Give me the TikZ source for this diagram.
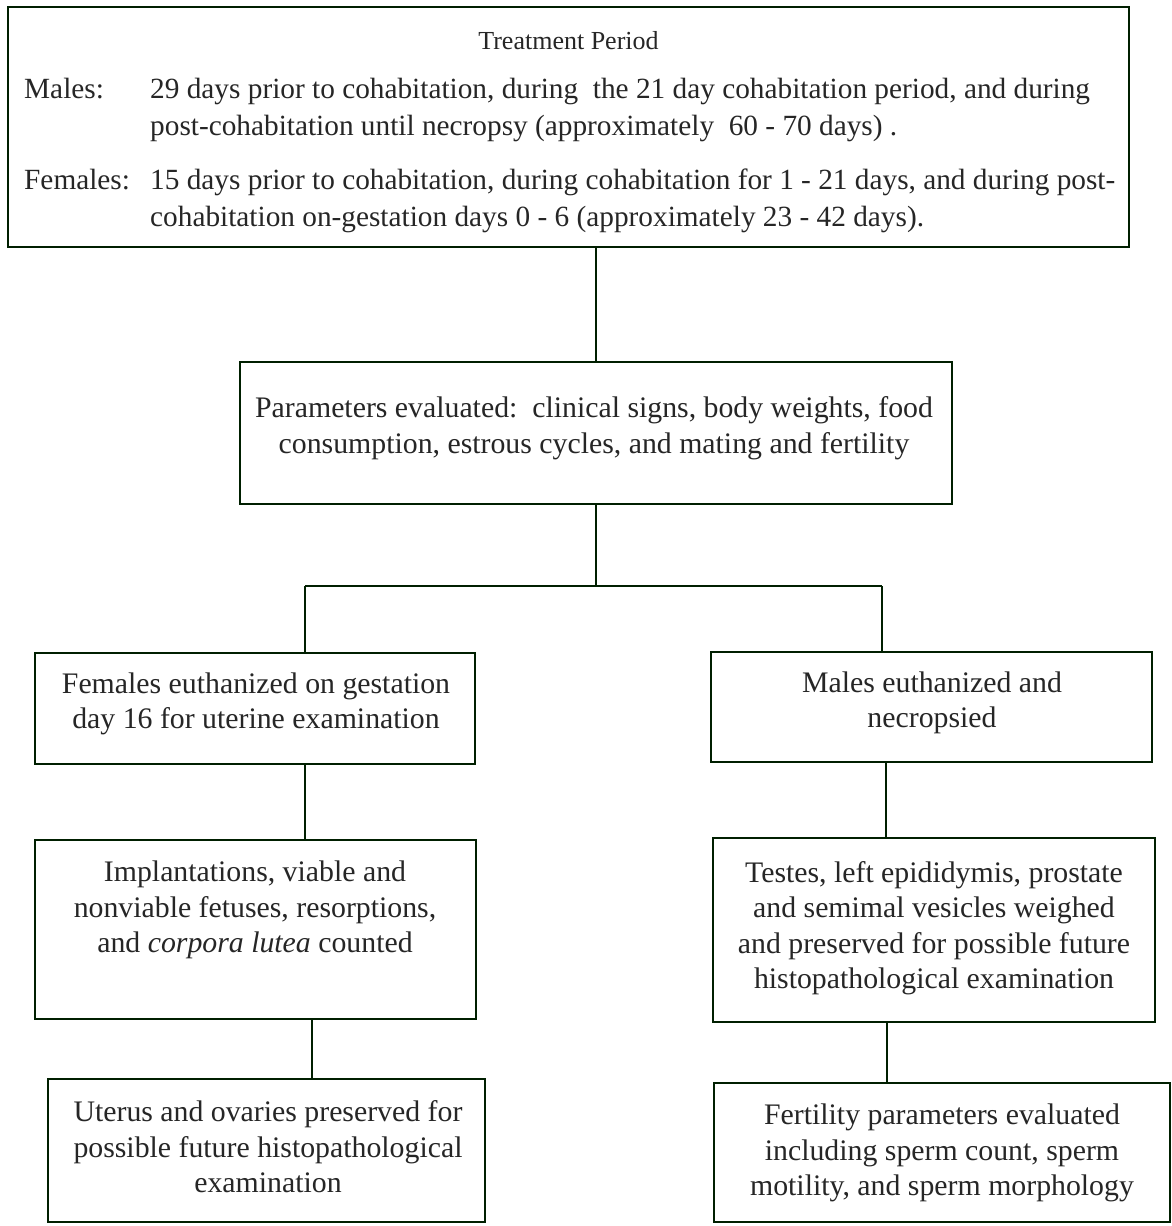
\documentclass[tikz,border=0pt]{standalone}
\usepackage{fontspec}
\setmainfont{Liberation Serif}
\begin{document}
\begin{tikzpicture}[x=1pt,y=-1pt,
  ink/.style={draw=black!80!green!60!black},
  box/.style={ink, line width=2.4pt, rectangle, inner sep=0pt, fill=none},
  conn/.style={ink, line width=2pt},
  txt/.style={inner sep=0pt, text=black!85, font=\fontsize{29.3}{36}\selectfont},
  btxt/.style={inner sep=0pt, text=black!85, font=\fontsize{29.8}{35.5}\selectfont, align=center, anchor=center}
]
\useasboundingbox (0,0) rectangle (1172,1226);
\fill[white] (0,0) rectangle (1172,1226);

% boxes
\node[box, minimum width=1121, minimum height=240] (top) at (568.5,127) {};
\node[box, minimum width=712, minimum height=142] (params) at (596,433) {};
\node[box, minimum width=440, minimum height=111] (fem) at (255,708.5) {};
\node[box, minimum width=441, minimum height=110] (mal) at (931.5,707) {};
\node[box, minimum width=441, minimum height=179] (imp) at (255.5,929.5) {};
\node[box, minimum width=442, minimum height=184] (tes) at (934,930) {};
\node[box, minimum width=437, minimum height=143] (ute) at (266.5,1150.5) {};
\node[box, minimum width=456, minimum height=139] (fer) at (942,1152.5) {};

% top box text
\node[txt, anchor=base, font=\fontsize{26}{30}\selectfont] (tp) at (568.5,49) {Treatment Period};
\node[txt, anchor=base west] (ml) at (24,98) {Males:};
\node[txt, anchor=base west] (m1) at (150,98) {29 days prior to cohabitation, during\ \ the 21 day cohabitation period, and during};
\node[txt, anchor=base west] (m2) at (150,135) {post-cohabitation until necropsy (approximately\ \ 60 - 70 days) .};
\node[txt, anchor=base west] (fl) at (24,189) {Females:};
\node[txt, anchor=base west] (f1) at (150,189) {15 days prior to cohabitation, during cohabitation for 1 - 21 days, and during post-};
\node[txt, anchor=base west] (f2) at (150,226) {cohabitation on-gestation days 0 - 6 (approximately 23 - 42 days).};

% box texts
\node[btxt] (ptx) at (594,428) {Parameters evaluated:\ \ clinical signs, body weights, food\\consumption, estrous cycles, and mating and fertility};
\node[btxt] (ftx) at (256,704) {Females euthanized on gestation\\day 16 for uterine examination};
\node[btxt] (mtx) at (932,703) {Males euthanized and\\necropsied};
\node[btxt] (itx) at (255,910) {Implantations, viable and\\nonviable fetuses, resorptions,\\and \textit{corpora lutea} counted};
\node[btxt] (ttx) at (934,928) {Testes, left epididymis, prostate\\and semimal vesicles weighed\\and preserved for possible future\\histopathological examination};
\node[btxt] (utx) at (268,1147) {Uterus and ovaries preserved for\\possible future histopathological\\examination};
\node[btxt] (rtx) at (942,1153) {Fertility parameters evaluated\\including sperm count, sperm\\motility, and sperm morphology};

% connectors
\coordinate (bl) at (305,586);
\coordinate (br) at (882,586);
\coordinate (cu) at (312,0);
\coordinate (cm) at (886,0);
\coordinate (cf) at (887,0);
\draw[conn] (top.south -| params.north) -- (params.north);
\draw[conn] (params.south) -- (params.south |- bl);
\draw[conn] (bl) -- (br);
\draw[conn] (bl) -- (bl |- fem.north);
\draw[conn] (br) -- (br |- mal.north);
\draw[conn] (bl |- fem.south) -- (bl |- imp.north);
\draw[conn] (cm |- mal.south) -- (cm |- tes.north);
\draw[conn] (cu |- imp.south) -- (cu |- ute.north);
\draw[conn] (cf |- tes.south) -- (cf |- fer.north);
\end{tikzpicture}
\end{document}
